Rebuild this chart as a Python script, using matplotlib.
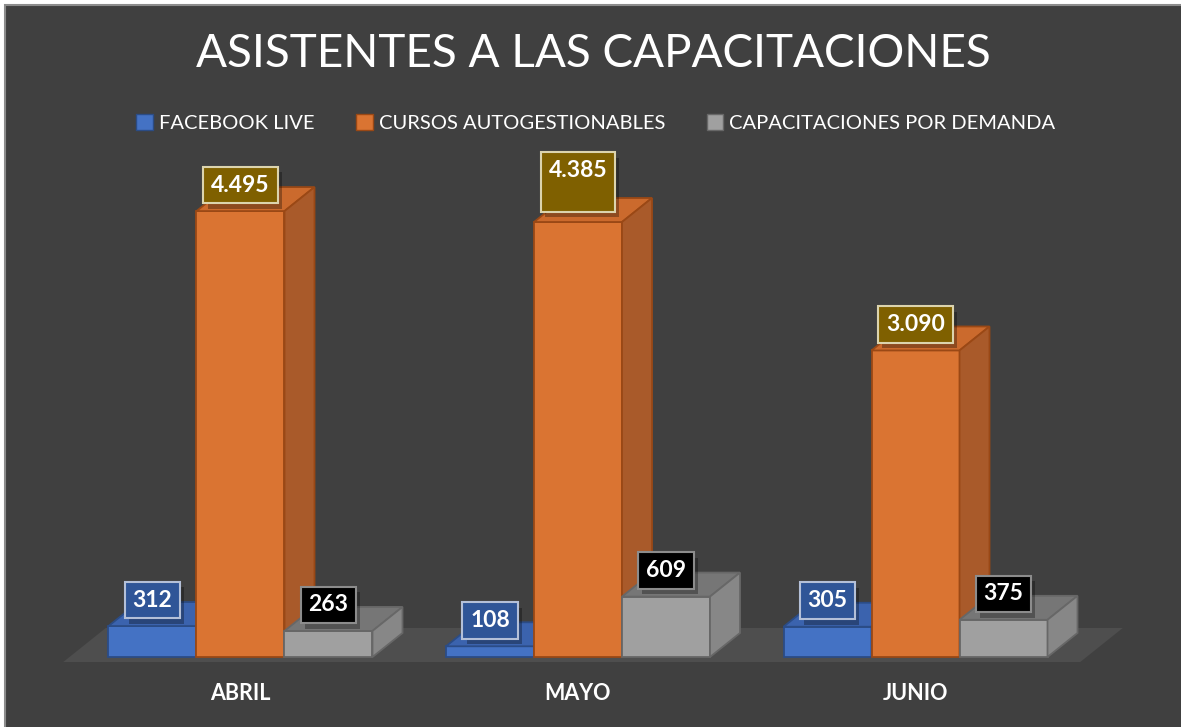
import matplotlib
matplotlib.use("Agg")
import matplotlib.pyplot as plt
import matplotlib.patheffects as pe
from matplotlib.patches import Polygon, Patch, Rectangle
import numpy as np

# data
months = ["ABRIL", "MAYO", "JUNIO"]
series = ["FACEBOOK LIVE", "CURSOS AUTOGESTIONABLES", "CAPACITACIONES POR DEMANDA"]
facebook_live = [312, 108, 305]
cursos_auto = [4495, 4385, 3090]
capacitaciones_demanda = [263, 609, 375]
values = [facebook_live, cursos_auto, capacitaciones_demanda]

# styles per series: front, top, side, edge, label fill, label border
styles = [
    dict(front="#4472C4", top="#3B63AE", side="#355A9E", edge="#2B4C86",
         lfill="#2F5597", lborder="#B4C0D8"),
    dict(front="#DA7432", top="#CB6A2D", side="#A95A2A", edge="#9A4815",
         lfill="#7F6000", lborder="#DCD4AE"),
    dict(front="#A0A0A0", top="#767676", side="#878787", edge="#676767",
         lfill="#000000", lborder="#8C8C8C"),
]

W, H = 1181, 727
fig = plt.figure(figsize=(W / 100, H / 100), dpi=100, facecolor="white")
fig.patches.append(Rectangle((5 / W, -0.01), 1.1, (H - 5) / H + 0.01,
                             transform=fig.transFigure, facecolor="#404040",
                             edgecolor="#8C8C8C", linewidth=1.5, zorder=-1))

ax = fig.add_axes([0, 0, 1, 1], zorder=1)
ax.axis("off")
ax.patch.set_alpha(0)

# scale: x = category index, y = value
px_x = 337.5          # pixels per category
px_y = 0.0992         # pixels per unit
x0_px, y0_px = 240.5, 657
ax.set_xlim(-x0_px / px_x, (W - x0_px) / px_x)
ax.set_ylim(-(H - y0_px) / px_y, y0_px / px_y)

bar_w = 88 / px_x
dx = 30 / px_x        # depth offset (x)
dy = 24 / px_y        # depth offset (y)
x = np.arange(len(months))
offsets = [-bar_w, 0, bar_w]

# floor
margin = 39 / px_x
fl = x[0] + offsets[0] - bar_w / 2 - margin
fr = x[-1] + offsets[-1] + bar_w / 2 + margin
f0, f1 = -5 / 24, 29 / 24
ax.add_patch(Polygon([(fl + f0 * dx, f0 * dy), (fr + f0 * dx, f0 * dy),
                      (fr + f1 * dx, f1 * dy), (fl + f1 * dx, f1 * dy)],
                     closed=True, facecolor="#4E4E4E", edgecolor="none", zorder=1))

# bars, drawn left to right so later boxes cover earlier side faces
z = 2
for i in range(len(months)):
    for s in range(len(series)):
        v = values[s][i]
        st = styles[s]
        xc = x[i] + offsets[s]
        xl, xr = xc - bar_w / 2, xc + bar_w / 2
        ax.bar(xc, v, width=bar_w, color=st["front"], edgecolor=st["edge"],
               linewidth=1.3, zorder=z)
        ax.add_patch(Polygon([(xl, v), (xr, v), (xr + dx, v + dy), (xl + dx, v + dy)],
                             closed=True, facecolor=st["top"], edgecolor=st["edge"],
                             linewidth=1.3, zorder=z))
        ax.add_patch(Polygon([(xr, 0), (xr + dx, dy), (xr + dx, v + dy), (xr, v)],
                             closed=True, facecolor=st["side"], edgecolor=st["edge"],
                             linewidth=1.3, zorder=z))
        z += 1

# data labels
for i in range(len(months)):
    for s in range(len(series)):
        v = values[s][i]
        st = styles[s]
        txt = f"{v:,}".replace(",", ".")
        off = 26
        if s == 1 and i == 1:  # taller box in the original
            txt = txt + "\n "
            off = 40
        t = ax.annotate(txt, xy=(x[i] + offsets[s], v), xytext=(0, off),
                        textcoords="offset pixels", ha="center", va="center",
                        fontsize=16.5, fontweight="bold", family="Lato",
                        color="white", zorder=50, linespacing=1.1,
                        bbox=dict(boxstyle="square,pad=0.34", facecolor=st["lfill"],
                                  edgecolor=st["lborder"], linewidth=1.5))
        t.get_bbox_patch().set_path_effects(
            [pe.SimplePatchShadow(offset=(3, -4), shadow_rgbFace="black", alpha=0.3),
             pe.Normal()])

# category labels
for i, m in enumerate(months):
    ax.text(x[i], 1 - 693 / H, m, transform=ax.get_xaxis_transform(),
            ha="center", va="center", fontsize=15.5, fontweight="bold",
            family="Lato", color="white")

# title
title = fig.text(593.5 / W, 1 - 67 / H, "ASISTENTES A LAS CAPACITACIONES",
                 ha="center", va="baseline", fontsize=29, color="white",
                 family="Lato", fontweight="normal")
fig.canvas.draw()
tw = title.get_window_extent().width
title.set_fontsize(29 * 793 / tw)

# legend
handles = [Patch(facecolor=st["front"], edgecolor=st["edge"]) for st in styles]
fig.legend(handles, series, loc="center", bbox_to_anchor=(596 / W, 1 - 123 / H),
           ncol=3, frameon=False, labelcolor="white",
           prop=dict(family="Lato", size=14.5),
           handlelength=0.8, handleheight=0.8, handletextpad=0.3, columnspacing=2.1)

fig.savefig("out.png", dpi=100, facecolor=fig.get_facecolor())
